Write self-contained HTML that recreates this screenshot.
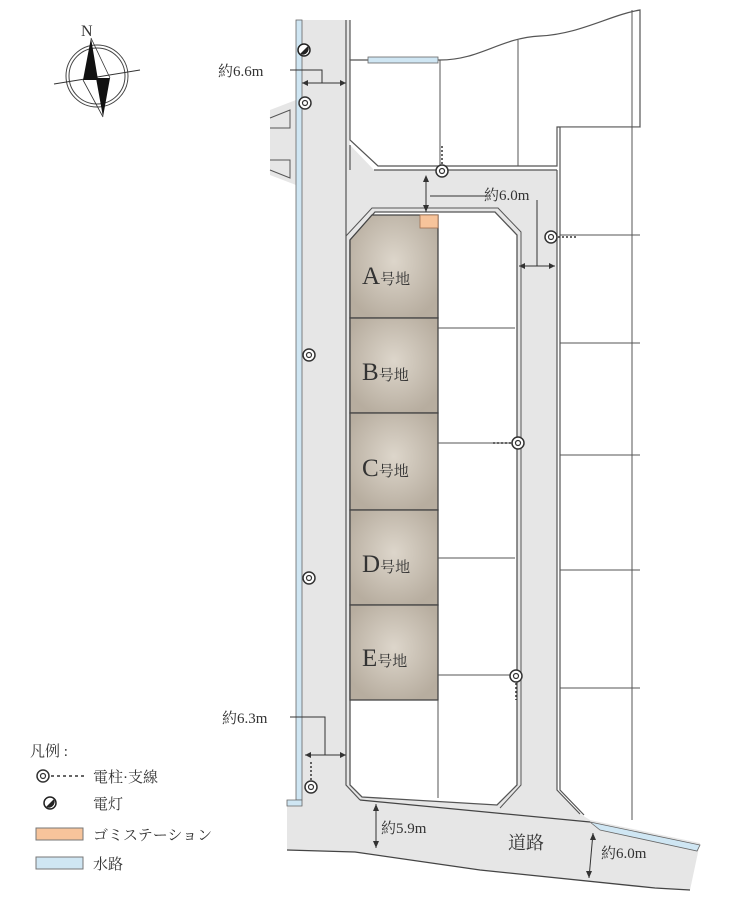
<!DOCTYPE html>
<html><head><meta charset="utf-8"><style>
html,body{margin:0;padding:0;background:#fff;}
svg{display:block;}
text{font-family:"Liberation Serif","Noto Serif CJK SC",serif;fill:#333;}
</style></head><body>
<svg width="733" height="900" viewBox="0 0 733 900" xmlns="http://www.w3.org/2000/svg">
<defs>
<radialGradient id="tan" cx="0.5" cy="0.45" r="0.6">
<stop offset="0" stop-color="#ddd6cb"/><stop offset="1" stop-color="#b7ad9f"/>
</radialGradient>
</defs>
<path d="M296,20 L350,20 L350,145 L374,170 L557,170 L557,790 L582,815 L590,820 L700,843 L690,890 L655,888 L480,870 L355,852 L287,850 L287,805 L296,800 Z" fill="#e6e6e6"/>
<path d="M270,110 L296,100 L296,185 L270,175 Z" fill="#e6e6e6"/>
<path d="M270,118 L290,110 L290,128 L270,128 M270,160 L290,160 L290,178 L270,170" fill="none" stroke="#555" stroke-width="1"/>
<rect x="296" y="20" width="6" height="780" fill="#cfe6f3" stroke="#666" stroke-width="0.8"/>
<path d="M287,800 L302,800 L302,806 L287,806 Z" fill="#cfe6f3" stroke="#666" stroke-width="0.8"/>
<path d="M346,20 L346,785 L360,800" fill="none" stroke="#555" stroke-width="1.2"/>
<path d="M350,20 L350,60 M350,145 L350,170" fill="none" stroke="#555" stroke-width="1.2"/>
<path d="M350,60 L440,60 C480,60 500,38 540,36 C580,34 610,15 640,10 L640,127 L557,127 L557,166 L378,166 L350,140 Z" fill="#fff" stroke="#555" stroke-width="1.2"/>
<rect x="368" y="57" width="70" height="6" fill="#cfe6f3" stroke="#666" stroke-width="0.8"/>
<path d="M440,60 L440,166 M518,40 L518,166" stroke="#555" stroke-width="1"/>
<path d="M374,170 L557,170" stroke="#555" stroke-width="1.2"/>
<path d="M557,127 L640,127 L640,10 L640,820 L588,818 L560,790 L560,127" fill="#fff" stroke="none"/>
<path d="M560,127 L560,790 L584,815" fill="none" stroke="#555" stroke-width="1.2"/>
<path d="M557,170 L557,790 L580,814" fill="none" stroke="#555" stroke-width="1.2"/>
<path d="M560,127 L640,127 M632,10 L632,820 M560,235 L640,235 M560,343 L640,343 M560,455 L640,455 M560,570 L640,570 M560,688 L640,688" stroke="#555" stroke-width="1"/>
<path d="M350,240 L375,212 L495,212 L517,235 L517,785 L497,805 L362,797 L350,785 Z" fill="#fff" stroke="#555" stroke-width="1.3"/>
<path d="M346,236 L372,208 L498,208 L521,232 L521,785 L500,808" fill="none" stroke="#555" stroke-width="1"/>
<path d="M360,800 L590,822" fill="none" stroke="#444" stroke-width="1.3"/>
<path d="M287,850 L355,852 L480,870 L655,888 L690,890" fill="none" stroke="#444" stroke-width="1.3"/>
<path d="M590,822 L700,845 L697,851 L600,830 Z" fill="#cfe6f3" stroke="#666" stroke-width="0.8"/>
<path d="M350,240 L372,215 L438,215 L438,318 L350,318 Z" fill="url(#tan)" stroke="#444" stroke-width="1.3"/>
<rect x="350" y="318" width="88" height="95" fill="url(#tan)" stroke="#444" stroke-width="1.3"/>
<rect x="350" y="413" width="88" height="97" fill="url(#tan)" stroke="#444" stroke-width="1.3"/>
<rect x="350" y="510" width="88" height="95" fill="url(#tan)" stroke="#444" stroke-width="1.3"/>
<rect x="350" y="605" width="88" height="95" fill="url(#tan)" stroke="#444" stroke-width="1.3"/>
<rect x="420" y="215" width="18" height="13" fill="#f7c49b" stroke="#a07050" stroke-width="0.8"/>
<path d="M438,700 L438,798 M438,328 L515,328 M438,443 L515,443 M438,558 L515,558 M438,675 L515,675" stroke="#555" stroke-width="1"/>
<g font-size="25"><text x="362" y="284">A<tspan font-size="15">号地</tspan></text>
<text x="362" y="380">B<tspan font-size="15">号地</tspan></text>
<text x="362" y="476">C<tspan font-size="15">号地</tspan></text>
<text x="362" y="572">D<tspan font-size="15">号地</tspan></text>
<text x="362" y="666">E<tspan font-size="15">号地</tspan></text></g>
<g fill="#fff" stroke="#333" stroke-width="1.5">
<circle cx="305" cy="103" r="6"/><circle cx="442" cy="171" r="6"/><circle cx="551" cy="237" r="6"/>
<circle cx="309" cy="355" r="6"/><circle cx="309" cy="578" r="6"/><circle cx="518" cy="443" r="6"/>
<circle cx="516" cy="676" r="6"/><circle cx="311" cy="787" r="6"/>
</g>
<g fill="none" stroke="#333" stroke-width="1.2">
<circle cx="305" cy="103" r="2.5"/><circle cx="442" cy="171" r="2.5"/><circle cx="551" cy="237" r="2.5"/>
<circle cx="309" cy="355" r="2.5"/><circle cx="309" cy="578" r="2.5"/><circle cx="518" cy="443" r="2.5"/>
<circle cx="516" cy="676" r="2.5"/><circle cx="311" cy="787" r="2.5"/>
</g>
<g stroke="#333" stroke-width="1.5" stroke-dasharray="2,2">
<path d="M442,164 L442,146 M558,237 L578,237 M511,443 L493,443 M516,683 L516,700 M311,780 L311,760"/>
</g>
<circle cx="304" cy="50" r="6" fill="#fff" stroke="#222" stroke-width="1.5"/>
<path d="M308,46 A6,6 0 0 1 300,54 Z" fill="#222"/>
<g stroke="#333" stroke-width="1" fill="none">
<path d="M290,70 L322,70 L322,83 M302,83 L346,83"/>
<path d="M426,178 L426,212 M430,196 L490,196"/>
<path d="M537,200 L537,266 M519,266 L555,266"/>
<path d="M290,717 L325,717 L325,755 M305,755 L346,755"/>
<path d="M376,804 L376,848"/>
<path d="M593,833 L589,878"/>
</g>
<g fill="#333">
<path d="M426,175 l-3,7 h6 Z M426,212 l-3,-7 h6 Z"/>
<path d="M302,83 l6,-3 v6 Z M346,83 l-6,-3 v6 Z"/>
<path d="M519,266 l6,-3 v6 Z M555,266 l-6,-3 v6 Z"/>
<path d="M305,755 l6,-3 v6 Z M346,755 l-6,-3 v6 Z"/>
<path d="M376,804 l-3,7 h6 Z M376,848 l-3,-7 h6 Z"/>
<path d="M593,833 l-3,7 h6 Z M589,878 l-3,-7 h6 Z"/>
</g>
<g font-size="15"><text x="218" y="76">約6.6m</text><text x="484" y="200">約6.0m</text>
<text x="222" y="723">約6.3m</text><text x="381" y="833">約5.9m</text>
<text x="601" y="858">約6.0m</text><text x="508" y="849" font-size="18">道路</text></g>
<text x="81" y="36" font-size="16">N</text>
<circle cx="97" cy="76" r="31" fill="none" stroke="#444" stroke-width="1"/>
<circle cx="97" cy="76" r="28" fill="none" stroke="#444" stroke-width="1"/>
<path d="M54,84 L140,70" stroke="#333" stroke-width="1"/>
<path d="M91,38 L83,80 L98,80 Z M103,117 L110,78 L96,78 Z" fill="#111"/>
<path d="M91,38 L110,78 M103,117 L83,80" stroke="#333" stroke-width="0.8"/>
<g font-size="15"><text x="30" y="756">凡例 :</text>
<text x="93" y="782">電柱·支線</text><text x="93" y="809">電灯</text>
<text x="93" y="840">ゴミステーション</text><text x="93" y="869">水路</text></g>
<circle cx="43" cy="776" r="6" fill="#fff" stroke="#333" stroke-width="1.5"/>
<circle cx="43" cy="776" r="2.5" fill="none" stroke="#333" stroke-width="1.2"/>
<path d="M51,776 L86,776" stroke="#333" stroke-width="1.5" stroke-dasharray="3,3"/>
<circle cx="50" cy="803" r="6" fill="#fff" stroke="#222" stroke-width="1.5"/>
<path d="M54,799 A6,6 0 0 1 46,807 Z" fill="#222"/>
<rect x="36" y="828" width="47" height="12" fill="#f7c49b" stroke="#777"/>
<rect x="36" y="857" width="47" height="12" fill="#cfe6f3" stroke="#777"/>
</svg>
</body></html>
